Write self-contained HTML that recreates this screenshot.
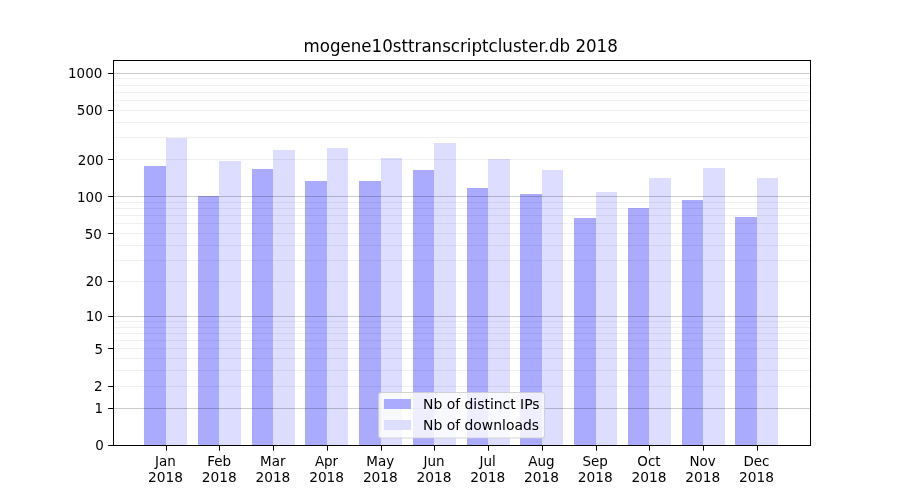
<!DOCTYPE html>
<html><head><meta charset="utf-8"><title>mogene10sttranscriptcluster.db 2018</title>
<style>html,body{margin:0;padding:0;background:#fff}svg{display:block;will-change:transform}text{font-family:"DejaVu Sans","Liberation Sans",sans-serif;fill:#000}</style></head><body>
<svg width="900" height="500" viewBox="0 0 900 500">
<rect width="900" height="500" fill="#fff"/>
<g shape-rendering="crispEdges">
<rect x="144" y="166" width="22" height="279" fill="#aaaaff"/>
<rect x="166" y="138" width="21" height="307" fill="#ddddff"/>
<rect x="198" y="196" width="21" height="249" fill="#aaaaff"/>
<rect x="219" y="161" width="22" height="284" fill="#ddddff"/>
<rect x="252" y="169" width="21" height="276" fill="#aaaaff"/>
<rect x="273" y="150" width="22" height="295" fill="#ddddff"/>
<rect x="305" y="181" width="22" height="264" fill="#aaaaff"/>
<rect x="327" y="148" width="21" height="297" fill="#ddddff"/>
<rect x="359" y="181" width="22" height="264" fill="#aaaaff"/>
<rect x="381" y="158" width="21" height="287" fill="#ddddff"/>
<rect x="413" y="170" width="21" height="275" fill="#aaaaff"/>
<rect x="434" y="143" width="22" height="302" fill="#ddddff"/>
<rect x="467" y="188" width="21" height="257" fill="#aaaaff"/>
<rect x="488" y="159" width="22" height="286" fill="#ddddff"/>
<rect x="520" y="194" width="22" height="251" fill="#aaaaff"/>
<rect x="542" y="170" width="21" height="275" fill="#ddddff"/>
<rect x="574" y="218" width="22" height="227" fill="#aaaaff"/>
<rect x="596" y="192" width="21" height="253" fill="#ddddff"/>
<rect x="628" y="208" width="21" height="237" fill="#aaaaff"/>
<rect x="649" y="178" width="22" height="267" fill="#ddddff"/>
<rect x="682" y="200" width="21" height="245" fill="#aaaaff"/>
<rect x="703" y="168" width="22" height="277" fill="#ddddff"/>
<rect x="735" y="217" width="22" height="228" fill="#aaaaff"/>
<rect x="757" y="178" width="21" height="267" fill="#ddddff"/>
<rect x="114" y="386" width="697" height="1" fill="#000" fill-opacity="0.06"/>
<rect x="114" y="370" width="697" height="1" fill="#000" fill-opacity="0.06"/>
<rect x="114" y="358" width="697" height="1" fill="#000" fill-opacity="0.06"/>
<rect x="114" y="348" width="697" height="1" fill="#000" fill-opacity="0.06"/>
<rect x="114" y="340" width="697" height="1" fill="#000" fill-opacity="0.06"/>
<rect x="114" y="333" width="697" height="1" fill="#000" fill-opacity="0.06"/>
<rect x="114" y="327" width="697" height="1" fill="#000" fill-opacity="0.06"/>
<rect x="114" y="321" width="697" height="1" fill="#000" fill-opacity="0.06"/>
<rect x="114" y="281" width="697" height="1" fill="#000" fill-opacity="0.06"/>
<rect x="114" y="260" width="697" height="1" fill="#000" fill-opacity="0.06"/>
<rect x="114" y="245" width="697" height="1" fill="#000" fill-opacity="0.06"/>
<rect x="114" y="233" width="697" height="1" fill="#000" fill-opacity="0.06"/>
<rect x="114" y="223" width="697" height="1" fill="#000" fill-opacity="0.06"/>
<rect x="114" y="215" width="697" height="1" fill="#000" fill-opacity="0.06"/>
<rect x="114" y="208" width="697" height="1" fill="#000" fill-opacity="0.06"/>
<rect x="114" y="202" width="697" height="1" fill="#000" fill-opacity="0.06"/>
<rect x="114" y="159" width="697" height="1" fill="#000" fill-opacity="0.06"/>
<rect x="114" y="137" width="697" height="1" fill="#000" fill-opacity="0.06"/>
<rect x="114" y="122" width="697" height="1" fill="#000" fill-opacity="0.06"/>
<rect x="114" y="110" width="697" height="1" fill="#000" fill-opacity="0.06"/>
<rect x="114" y="100" width="697" height="1" fill="#000" fill-opacity="0.06"/>
<rect x="114" y="92" width="697" height="1" fill="#000" fill-opacity="0.06"/>
<rect x="114" y="85" width="697" height="1" fill="#000" fill-opacity="0.06"/>
<rect x="114" y="78" width="697" height="1" fill="#000" fill-opacity="0.06"/>
<rect x="114" y="408" width="697" height="1" fill="#000" fill-opacity="0.2"/>
<rect x="114" y="316" width="697" height="1" fill="#000" fill-opacity="0.2"/>
<rect x="114" y="196" width="697" height="1" fill="#000" fill-opacity="0.2"/>
<rect x="114" y="73" width="697" height="1" fill="#000" fill-opacity="0.2"/>
<rect x="113" y="60" width="698" height="1" fill="#000"/>
<rect x="113" y="445" width="698" height="1" fill="#000"/>
<rect x="113" y="60" width="1" height="386" fill="#000"/>
<rect x="810" y="60" width="1" height="386" fill="#000"/>
</g>
<rect x="108.2" y="445" width="4.8" height="1" fill="#000"/>
<rect x="108.2" y="408" width="4.8" height="1" fill="#000"/>
<rect x="108.2" y="386" width="4.8" height="1" fill="#000"/>
<rect x="108.2" y="348" width="4.8" height="1" fill="#000"/>
<rect x="108.2" y="316" width="4.8" height="1" fill="#000"/>
<rect x="108.2" y="281" width="4.8" height="1" fill="#000"/>
<rect x="108.2" y="233" width="4.8" height="1" fill="#000"/>
<rect x="108.2" y="196" width="4.8" height="1" fill="#000"/>
<rect x="108.2" y="159" width="4.8" height="1" fill="#000"/>
<rect x="108.2" y="110" width="4.8" height="1" fill="#000"/>
<rect x="108.2" y="73" width="4.8" height="1" fill="#000"/>
<rect x="166" y="446" width="1" height="4.7" fill="#000"/>
<rect x="219" y="446" width="1" height="4.7" fill="#000"/>
<rect x="273" y="446" width="1" height="4.7" fill="#000"/>
<rect x="327" y="446" width="1" height="4.7" fill="#000"/>
<rect x="381" y="446" width="1" height="4.7" fill="#000"/>
<rect x="434" y="446" width="1" height="4.7" fill="#000"/>
<rect x="488" y="446" width="1" height="4.7" fill="#000"/>
<rect x="542" y="446" width="1" height="4.7" fill="#000"/>
<rect x="596" y="446" width="1" height="4.7" fill="#000"/>
<rect x="649" y="446" width="1" height="4.7" fill="#000"/>
<rect x="703" y="446" width="1" height="4.7" fill="#000"/>
<rect x="757" y="446" width="1" height="4.7" fill="#000"/>
<text transform="translate(103.90 450.15) scale(0.970 1.030)" font-size="13.89" text-anchor="end">0</text>
<text transform="translate(103.10 413.15) scale(0.970 1.030)" font-size="13.89" text-anchor="end">1</text>
<text transform="translate(102.60 391.15) scale(0.970 1.030)" font-size="13.89" text-anchor="end">2</text>
<text transform="translate(103.00 354.15) scale(0.970 1.030)" font-size="13.89" text-anchor="end">5</text>
<text transform="translate(102.90 321.15) scale(0.970 1.030)" font-size="13.89" text-anchor="end">10</text>
<text transform="translate(102.90 286.15) scale(0.970 1.030)" font-size="13.89" text-anchor="end">20</text>
<text transform="translate(101.90 239.15) scale(0.970 1.030)" font-size="13.89" text-anchor="end">50</text>
<text transform="translate(102.70 202.15) scale(0.970 1.030)" font-size="13.89" text-anchor="end">100</text>
<text transform="translate(103.50 165.15) scale(0.970 1.030)" font-size="13.89" text-anchor="end">200</text>
<text transform="translate(102.50 115.15) scale(0.970 1.030)" font-size="13.89" text-anchor="end">500</text>
<text transform="translate(102.30 78.15) scale(0.970 1.030)" font-size="13.89" text-anchor="end">1000</text>
<text transform="translate(165.30 466.20) scale(0.970 1.030)" font-size="13.89" text-anchor="middle">Jan</text>
<text transform="translate(165.40 481.90) scale(0.990 1.030)" font-size="13.89" text-anchor="middle">2018</text>
<text transform="translate(219.04 466.20) scale(0.970 1.030)" font-size="13.89" text-anchor="middle">Feb</text>
<text transform="translate(219.14 481.90) scale(0.990 1.030)" font-size="13.89" text-anchor="middle">2018</text>
<text transform="translate(272.77 466.20) scale(0.970 1.030)" font-size="13.89" text-anchor="middle">Mar</text>
<text transform="translate(272.87 481.90) scale(0.990 1.030)" font-size="13.89" text-anchor="middle">2018</text>
<text transform="translate(326.51 466.20) scale(0.970 1.030)" font-size="13.89" text-anchor="middle">Apr</text>
<text transform="translate(326.61 481.90) scale(0.990 1.030)" font-size="13.89" text-anchor="middle">2018</text>
<text transform="translate(380.25 466.20) scale(0.970 1.030)" font-size="13.89" text-anchor="middle">May</text>
<text transform="translate(380.35 481.90) scale(0.990 1.030)" font-size="13.89" text-anchor="middle">2018</text>
<text transform="translate(433.98 466.20) scale(0.970 1.030)" font-size="13.89" text-anchor="middle">Jun</text>
<text transform="translate(434.08 481.90) scale(0.990 1.030)" font-size="13.89" text-anchor="middle">2018</text>
<text transform="translate(487.72 466.20) scale(0.970 1.030)" font-size="13.89" text-anchor="middle">Jul</text>
<text transform="translate(487.82 481.90) scale(0.990 1.030)" font-size="13.89" text-anchor="middle">2018</text>
<text transform="translate(541.45 466.20) scale(0.970 1.030)" font-size="13.89" text-anchor="middle">Aug</text>
<text transform="translate(541.55 481.90) scale(0.990 1.030)" font-size="13.89" text-anchor="middle">2018</text>
<text transform="translate(595.19 466.20) scale(0.970 1.030)" font-size="13.89" text-anchor="middle">Sep</text>
<text transform="translate(595.29 481.90) scale(0.990 1.030)" font-size="13.89" text-anchor="middle">2018</text>
<text transform="translate(648.93 466.20) scale(0.970 1.030)" font-size="13.89" text-anchor="middle">Oct</text>
<text transform="translate(649.03 481.90) scale(0.990 1.030)" font-size="13.89" text-anchor="middle">2018</text>
<text transform="translate(702.66 466.20) scale(0.970 1.030)" font-size="13.89" text-anchor="middle">Nov</text>
<text transform="translate(702.76 481.90) scale(0.990 1.030)" font-size="13.89" text-anchor="middle">2018</text>
<text transform="translate(756.40 466.20) scale(0.970 1.030)" font-size="13.89" text-anchor="middle">Dec</text>
<text transform="translate(756.50 481.90) scale(0.990 1.030)" font-size="13.89" text-anchor="middle">2018</text>
<text transform="translate(460.70 51.80) scale(1.000 1.090)" font-size="16.67" text-anchor="middle">mogene10sttranscriptcluster.db 2018</text>
<rect x="378.5" y="392.5" width="166" height="45.5" rx="2.8" ry="2.8" fill="#fff" fill-opacity="0.8" stroke="#ccc" stroke-opacity="0.8" stroke-width="1.1"/>
<g shape-rendering="crispEdges"><rect x="384" y="399" width="27" height="10" fill="#aaaaff"/><rect x="384" y="420" width="27" height="10" fill="#ddddff"/></g>
<text transform="translate(423.00 408.80) scale(1.002 1.030)" font-size="13.89">Nb of distinct IPs</text>
<text transform="translate(423.00 429.60) scale(1.002 1.030)" font-size="13.89">Nb of downloads</text>
</svg></body></html>
